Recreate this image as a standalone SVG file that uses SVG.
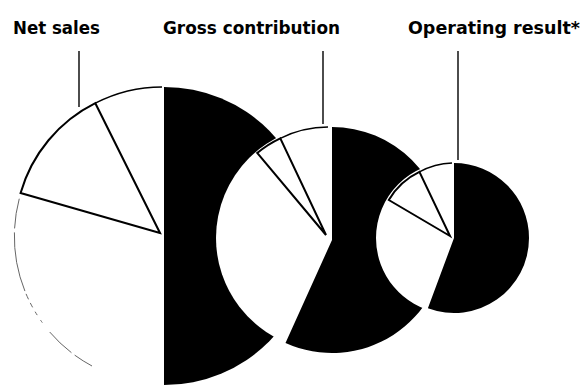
<svg xmlns="http://www.w3.org/2000/svg" width="582" height="386" viewBox="0 0 582 386">
<style>
.lbl{font-family:"DejaVu Sans Condensed","DejaVu Sans","Liberation Sans",sans-serif;font-stretch:condensed;font-weight:bold;font-size:18.5px;fill:#000}
.black{fill:#000;stroke:none}
.white{fill:#fff;stroke:none}
.wedge{fill:#fff;stroke:#000;stroke-width:2;stroke-linejoin:miter}
.thin{fill:none;stroke:#000;stroke-width:1.3}
.faint{fill:none;stroke:#666;stroke-width:1}
.tick{stroke:#000;stroke-width:1.4}
</style>
<rect width="582" height="386" fill="#fff"/>
<g id="pie-net-sales">
  <path class="white" d="M160,233 L160,380 A147,147 0 0 1 13,233 A147,147 0 0 1 160,86 Z"/>
  <path class="black" d="M164,236 L164,87 A149,149 0 0 1 313,236 A149,149 0 0 1 164,385 Z"/>
  <path class="wedge" d="M160,233 L20.6,193 A145,145 0 0 1 95.3,103.2 Z"/>
  <path class="thin" d="M95.3,103.2 A146,146 0 0 1 162,87"/>
  <path class="faint" stroke-dasharray="0 5 30 4 60 3 6 4 5 5 4 6 3 7" d="M20.6,194 A147,147 0 0 0 92,366"/>
</g>
<g id="pie-gross-contribution">
  <path class="white" d="M329,238 L299.75,347.15 A113,113 0 0 1 216,238 A113,113 0 0 1 329,125 Z"/>
  <path class="black" d="M332,240 L332,127 A113,113 0 0 1 445,240 A113,113 0 0 1 285.5,343 Z"/>
  <path class="wedge" d="M326,235 L257.2,153 A107,107 0 0 1 280.3,138.3 Z"/>
  <path class="thin" d="M280.3,138.3 A108,108 0 0 1 328,127"/>
</g>
<g id="pie-operating-result">
  <path class="white" d="M452,238 L438.8,312.85 A76,76 0 0 1 376,238 A76,76 0 0 1 452,162 Z"/>
  <path class="black" d="M454,238 L454,163 A75,75 0 0 1 529,238 A75,75 0 0 1 427.9,308.3 Z"/>
  <path class="wedge" d="M450,236 L388.8,200 A71,71 0 0 1 419.4,171.9 Z"/>
  <path class="thin" d="M419.4,171.9 A73,73 0 0 1 452,163"/>
</g>
<g id="connectors">
  <line class="tick" x1="79" y1="51" x2="79" y2="107"/>
  <line class="tick" x1="323" y1="51" x2="323" y2="124"/>
  <line class="tick" x1="458" y1="51" x2="458" y2="160"/>
</g>
<g id="labels">
  <text class="lbl" x="13" y="34" textLength="87" lengthAdjust="spacingAndGlyphs">Net sales</text>
  <text class="lbl" x="163" y="34" textLength="177" lengthAdjust="spacingAndGlyphs">Gross contribution</text>
  <text class="lbl" x="408" y="34" textLength="172" lengthAdjust="spacingAndGlyphs">Operating result*</text>
</g>
</svg>
